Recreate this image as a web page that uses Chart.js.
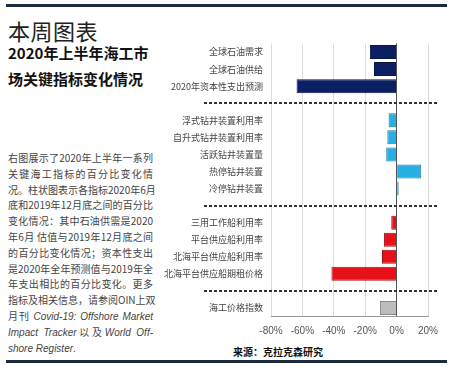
<!DOCTYPE html>
<html>
<head>
<meta charset="utf-8">
<script src="https://cdn.jsdelivr.net/npm/chart.js@4"></script>
<style>
  html, body { margin: 0; padding: 0; background: #fff; }
  body { width: 450px; height: 367px; position: relative; overflow: hidden; font-family: 'Noto Sans CJK SC', 'Liberation Sans', sans-serif; }
  .rule { position: absolute; left: 6px; width: 441px; height: 3px; background: #1c2b3e; }
  #head { position: absolute; left: 8px; top: 18px; font-size: 22px; line-height: 24px; color: #222; letter-spacing: 0.5px; }
  .title { position: absolute; left: 8px; font-size: 15px; line-height: 18px; font-weight: bold; color: #111; }
  #para { position: absolute; left: 8px; top: 150px; width: 145px; font-size: 10px; color: #444; }
  #para div { height: 15.8px; line-height: 15.8px; text-align: justify; text-align-last: justify; white-space: nowrap; }
  #para div.last { text-align-last: left; }
  #para i { font-family: 'Liberation Sans', sans-serif; }
  #src { position: absolute; left: 233px; top: 345px; font-size: 10px; line-height: 14px; font-weight: bold; color: #111; }
  #c { position: absolute; left: 160px; top: 30px; }
</style>
</head>
<body>
<div class="rule" style="top:4px"></div>
<div id="head">本周图表</div>
<div class="title" style="top:44px">2020年上半年海工市</div>
<div class="title" style="top:70px">场关键指标变化情况</div>
<div id="para">
  <div>右图展示了2020年上半年一系列</div>
  <div>关键海工指标的百分比变化情</div>
  <div>况。柱状图表示各指标2020年6月</div>
  <div>底和2019年12月底之间的百分比</div>
  <div>变化情况：其中石油供需是2020</div>
  <div>年6月 估值与2019年12月底之间</div>
  <div>的百分比变化情况；资本性支出</div>
  <div>是2020年全年预测值与2019年全</div>
  <div>年支出相比的百分比变化。更多</div>
  <div>指标及相关信息，请参阅OIN上双</div>
  <div>月刊 <i>Covid-19: Offshore Market</i></div>
  <div><i>Impact Tracker</i>以及<i>World Off-</i></div>
  <div class="last"><i>shore Register</i>.</div>
</div>
<div id="src">来源：克拉克森研究</div>
<div class="rule" style="top:360px"></div>
<canvas id="c" width="290" height="320"></canvas>
<script>
const categories = [
  '全球石油需求', '全球石油供给', '2020年资本性支出预测', '',
  '浮式钻井装置利用率', '自升式钻井装置利用率', '活跃钻井装置量', '热停钻井装置', '冷停钻井装置', '',
  '三用工作船利用率', '平台供应船利用率', '北海平台供应船利用率', '北海平台供应船期租价格', '',
  '海工价格指数'
];
const values = [
  -17, -14.4, -63.7, null,
  -5.1, -5.9, -6.6, 15.7, 1.3, null,
  -3.4, -8, -9.3, -41.5, null,
  -10.6
];
const separatorIndex = [3, 9, 14];
const xTicks = [-80, -60, -40, -20, 0, 20];

const groupOf = [0,0,0,-1,1,1,1,1,1,-1,2,2,2,2,-1,3];
const fills = ['#0c1f63', '#27b0e4', '#e81119', '#bdbdbd'];
const edges = ['#08164a', '#1b7fa8', '#a50d12', '#8a8a8a'];

const separators = {
  id: 'separators',
  afterDatasetsDraw(chart) {
    const ctx = chart.ctx, y = chart.scales.y, a = chart.chartArea;
    ctx.save();
    ctx.strokeStyle = '#333';
    ctx.lineWidth = 2;
    ctx.setLineDash([3, 2]);
    separatorIndex.forEach(i => {
      const py = Math.round(y.getPixelForValue(i));
      ctx.beginPath();
      ctx.moveTo(a.left - 67, py);
      ctx.lineTo(a.right + 9, py);
      ctx.stroke();
    });
    ctx.restore();
  }
};

new Chart(document.getElementById('c'), {
  type: 'bar',
  data: {
    labels: categories,
    datasets: [{
      data: values,
      backgroundColor: groupOf.map(g => g < 0 ? 'transparent' : fills[g]),
      borderColor: groupOf.map(g => g < 0 ? 'transparent' : edges[g]),
      borderWidth: 1,
      barPercentage: 0.82,
      categoryPercentage: 1
    }]
  },
  options: {
    indexAxis: 'y',
    responsive: false,
    animation: false,
    layout: { padding: { top: 13.5, right: 22, left: 0, bottom: 0 } },
    plugins: { legend: { display: false }, tooltip: { enabled: false } },
    scales: {
      x: {
        min: -80, max: 20,
        afterBuildTicks(s) { s.ticks = xTicks.map(v => ({ value: v })); },
        afterFit(s) { s.height = 33.5; },
        ticks: {
          callback: v => v + '%',
          font: { family: 'Liberation Sans', size: 10 },
          color: '#555',
          padding: 9
        },
        grid: {
          drawTicks: false,
          color: c => (c.tick && c.tick.value === 0) ? '#555' : '#dcdcdc',
          lineWidth: 1
        },
        border: { display: true, color: '#999' }
      },
      y: {
        afterFit(s) { s.width = 111; },
        ticks: {
          autoSkip: false,
          font: { family: 'Noto Sans CJK SC', size: 9 },
          color: '#444',
          padding: 8
        },
        grid: { display: false, drawTicks: false },
        border: { display: false }
      }
    }
  },
  plugins: [separators]
});
</script>
</body>
</html>
